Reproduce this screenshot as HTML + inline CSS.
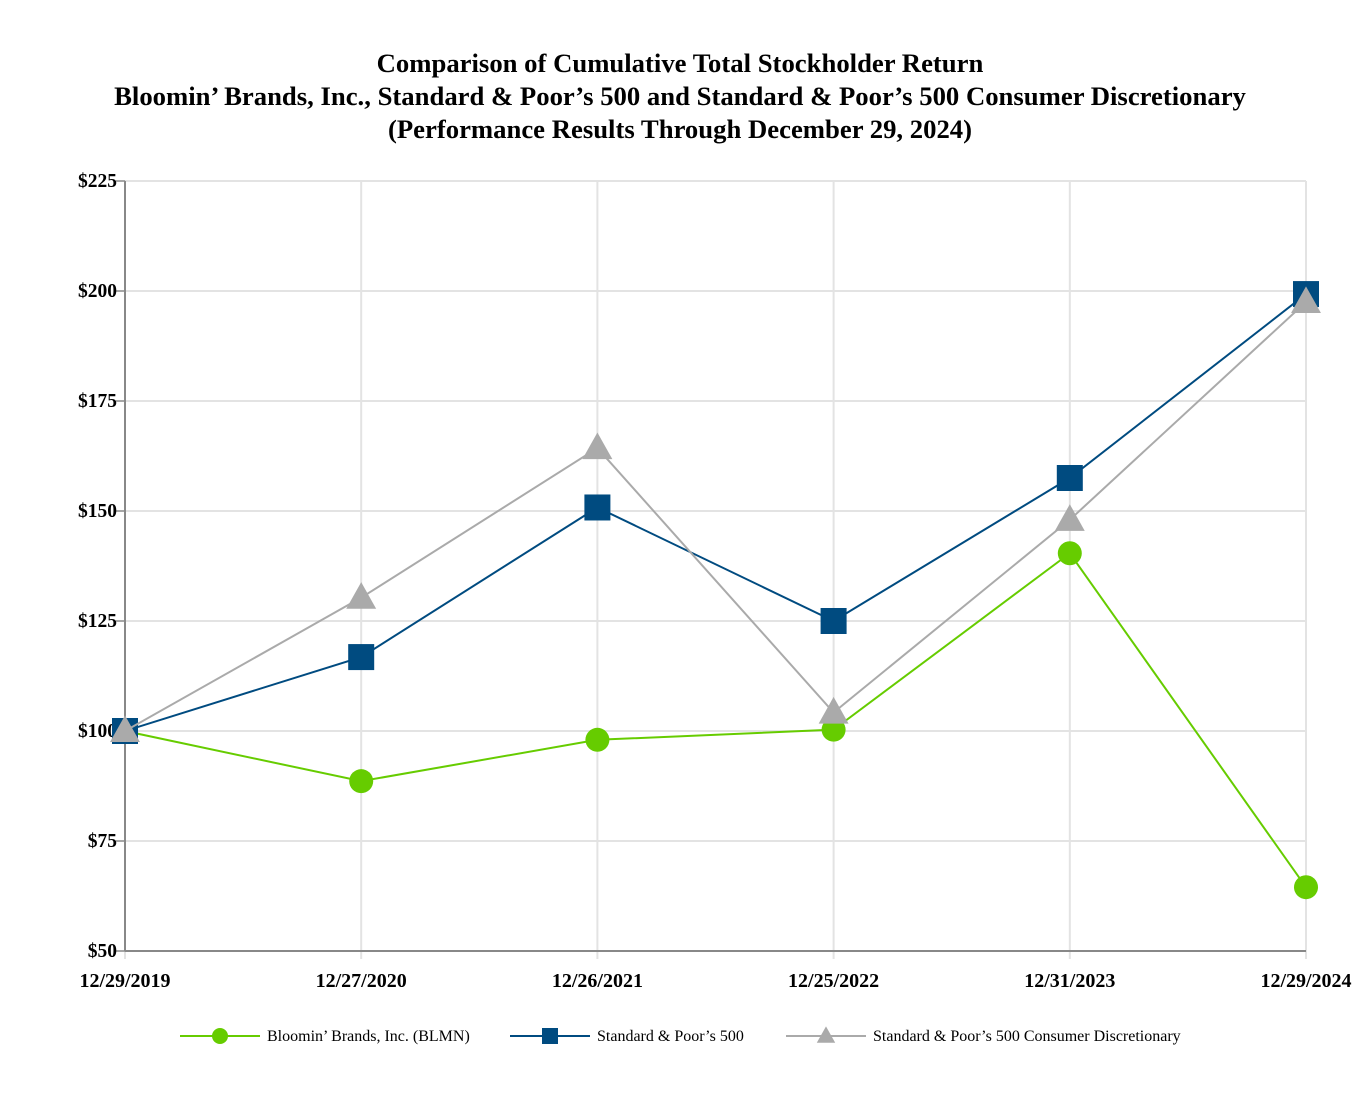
<!DOCTYPE html>
<html><head><meta charset="utf-8"><style>
body{margin:0;background:#fff;}
svg{display:block;font-family:"Liberation Serif",serif;}
</style></head><body>
<svg id="chart" width="1360" height="1108" viewBox="0 0 1360 1108">
<g font-weight="bold" font-size="26.7" text-anchor="middle" fill="#000">
<text x="680" y="72">Comparison of Cumulative Total Stockholder Return</text>
<text x="680" y="105">Bloomin’ Brands, Inc., Standard &amp; Poor’s 500 and Standard &amp; Poor’s 500 Consumer Discretionary</text>
<text x="680" y="138">(Performance Results Through December 29, 2024)</text>
</g>
<g id="grid"></g><g id="axes"></g><g id="series"></g><g id="legend"></g>
</svg>
<script>
const categories=["12/29/2019","12/27/2020","12/26/2021","12/25/2022","12/31/2023","12/29/2024"];
const blmn=[100,88.6,98,100.3,140.4,64.5];
const sp500=[100,116.8,150.8,125,157.5,199.3];
const spcd=[100,130.3,164.3,104.2,148,197.5];
const yTicks=[50,75,100,125,150,175,200,225];
const NS="http://www.w3.org/2000/svg";
const x0=125,x1=1306,yTop=181,yBot=951,yMin=50,yMax=225;
const xs=i=>x0+(x1-x0)*i/(categories.length-1);
const ys=v=>yBot-(v-yMin)/(yMax-yMin)*(yBot-yTop);
function mk(tag,attrs,parent){const e=document.createElementNS(NS,tag);for(const k in attrs)e.setAttribute(k,attrs[k]);parent.appendChild(e);return e;}
const grid=document.getElementById('grid'),axes=document.getElementById('axes'),series=document.getElementById('series'),legend=document.getElementById('legend');
yTicks.forEach(t=>{
 const l=mk('line',{x1:x0,x2:x1,y1:ys(t),y2:ys(t),stroke:'#e3e3e3','stroke-width':2},grid);
 
 
 const tk=mk('line',{x1:x0-9,x2:x0,y1:ys(t),y2:ys(t),stroke:'#888','stroke-width':1.5},axes);
 
 
 const tx=mk('text',{x:x0-8,y:ys(t)+6,'text-anchor':'end','font-size':19.5,'font-weight':'bold'},axes);
 tx.textContent='$'+t;
 
 
});
categories.forEach((c,i)=>{
 const l=mk('line',{x1:xs(i),x2:xs(i),y1:yTop,y2:yBot+8,stroke:'#e3e3e3','stroke-width':2},grid);
 
 
 const tx=mk('text',{x:xs(i),y:987,'text-anchor':'middle','font-size':20,'font-weight':'bold'},axes);
 tx.textContent=c;
 
 
});
const ya=mk('line',{x1:x0,x2:x0,y1:yTop,y2:yBot,stroke:'#888','stroke-width':2},axes);


const xa=mk('line',{x1:x0,x2:x1,y1:yBot,y2:yBot,stroke:'#888','stroke-width':2},axes);


function marker(type,cx,cy,color,parent,s){
 let e;
 if(type==='circle')e=mk('circle',{cx,cy,r:s,fill:color},parent);
 else if(type==='square')e=mk('rect',{x:cx-s,y:cy-s,width:2*s,height:2*s,fill:color},parent);
 else e=mk('polygon',{points:`${cx},${cy-s*1.2} ${cx-s*1.15},${cy+s*0.85} ${cx+s*1.15},${cy+s*0.85}`,fill:color},parent);
 return e;
}
const defs=[[blmn,'#66cc00','circle','blmn'],[sp500,'#004b80','square','sp500'],[spcd,'#aaaaaa','triangle','spcd']];
defs.forEach(([d,col,type,nm])=>{
 const g=mk('g',{},series);
 
 
 const p=mk('polyline',{points:d.map((v,i)=>xs(i)+','+ys(v)).join(' '),fill:'none',stroke:col,'stroke-width':2},g);
 
 
 d.forEach((v,i)=>{
  const m=marker(type,xs(i),ys(v),col,g,type==='circle'?12:13);
  
  
 });
});
const leg=[['Bloomin’ Brands, Inc. (BLMN)','#66cc00','circle',180],['Standard & Poor’s 500','#004b80','square',510],['Standard & Poor’s 500 Consumer Discretionary','#aaaaaa','triangle',786]];
leg.forEach(([lab,col,type,lx])=>{
 const g=mk('g',{},legend);
 
 
 mk('line',{x1:lx,x2:lx+80,y1:1036,y2:1036,stroke:col,'stroke-width':2},g);
 marker(type,lx+40,1036,col,g,8);
 const t=mk('text',{x:lx+87,y:1041,'font-size':16},g);
 t.textContent=lab;
});
</script>
</body></html>
